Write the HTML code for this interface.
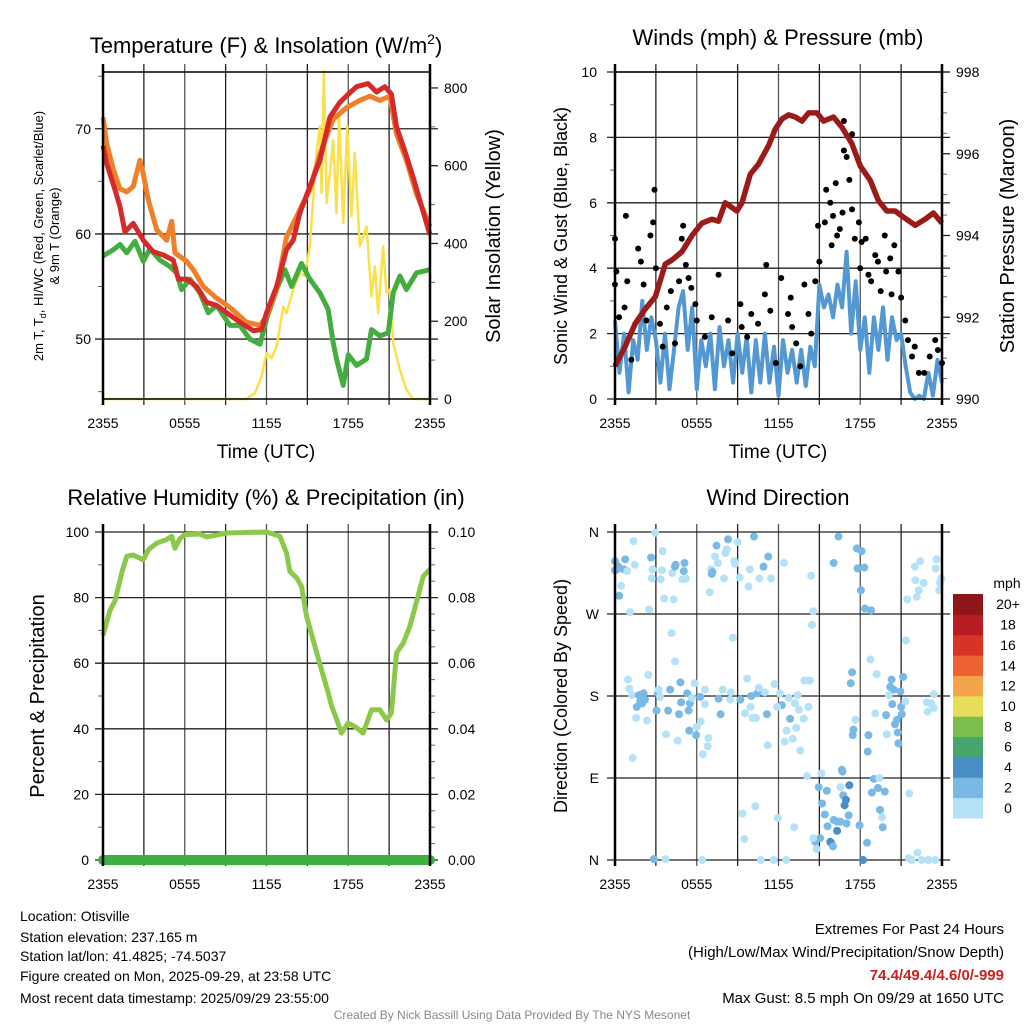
<!DOCTYPE html>
<html><head><meta charset="utf-8"><style>
html,body{margin:0;padding:0;background:#fff;}
svg{display:block;font-family:"Liberation Sans",Arial,sans-serif;}
</style></head><body>
<svg id="fig" width="1024" height="1024" viewBox="0 0 1024 1024" xmlns="http://www.w3.org/2000/svg">
<rect width="1024" height="1024" fill="#fff"/>
<text x="266" y="53" font-size="22" text-anchor="middle">Temperature (F) &amp; Insolation (W/m<tspan font-size="14" dy="-9">2</tspan><tspan dy="9">)</tspan></text>
<text x="778" y="45" font-size="22" text-anchor="middle">Winds (mph) &amp; Pressure (mb)</text>
<text x="266" y="505" font-size="22" text-anchor="middle">Relative Humidity (%) &amp; Precipitation (in)</text>
<text x="778" y="505" font-size="22" text-anchor="middle">Wind Direction</text>

<text transform="translate(43,236) rotate(-90)" font-size="13" text-anchor="middle">2m T, T<tspan font-size="9" dy="3">d</tspan><tspan dy="-3">, HI/WC (Red, Green, Scarlet/Blue)</tspan></text>
<text transform="translate(59,236) rotate(-90)" font-size="13" text-anchor="middle">&amp; 9m T (Orange)</text>
<text transform="translate(500,236) rotate(-90)" font-size="20" text-anchor="middle">Solar Insolation (Yellow)</text>
<text transform="translate(567,236) rotate(-90)" font-size="18" text-anchor="middle">Sonic Wind &amp; Gust (Blue, Black)</text>
<text transform="translate(1014,236) rotate(-90)" font-size="20" text-anchor="middle">Station Pressure (Maroon)</text>
<text transform="translate(44,696) rotate(-90)" font-size="20" text-anchor="middle">Percent &amp; Precipitation</text>
<text transform="translate(567,696) rotate(-90)" font-size="18" text-anchor="middle">Direction (Colored By Speed)</text>
<text x="266" y="458" font-size="19" text-anchor="middle">Time (UTC)</text>
<text x="778" y="458" font-size="19" text-anchor="middle">Time (UTC)</text>

<g font-size="14">
<text x="20" y="921">Location: Otisville</text>
<text x="20" y="942">Station elevation: 237.165 m</text>
<text x="20" y="961">Station lat/lon: 41.4825; -74.5037</text>
<text x="20" y="981">Figure created on Mon, 2025-09-29, at 23:58 UTC</text>
<text x="20" y="1003">Most recent data timestamp: 2025/09/29 23:55:00</text>
</g>
<g font-size="15" text-anchor="end">
<text x="1004" y="934">Extremes For Past 24 Hours</text>
<text x="1004" y="957">(High/Low/Max Wind/Precipitation/Snow Depth)</text>
<text x="1004" y="980" fill="#cc1f1f" font-weight="bold">74.4/49.4/4.6/0/-999</text>
<text x="1004" y="1003">Max Gust: 8.5 mph On 09/29 at 1650 UTC</text>
</g>
<text x="512" y="1019" font-size="12" fill="#888" text-anchor="middle">Created By Nick Bassill Using Data Provided By The NYS Mesonet</text>
<g id="layer"></g>
</svg>
<script>
// ---- Temperature panel data (hours since 2355 UTC) ----
const redHours=[0,0.27,0.88,1.25,1.61,2.22,2.96,3.69,4.43,5.16,5.53,6.14,6.87,7.6,8.34,9.07,10.05,11.03,11.64,12.0,12.74,13.47,13.96,14.45,15.18,15.92,16.65,17.38,18.0,18.61,19.46,20.07,20.68,21.17,21.54,22.15,22.76,23.25,24];
const redTemp=[68.4,66.7,64.2,62.6,60.2,61.0,59.4,58.3,58.0,57.5,55.7,55.7,55.0,53.5,53.2,52.5,51.6,50.8,50.9,52.5,55.0,58.5,59.4,62.0,64.5,67.0,71.1,72.5,73.3,74.0,74.3,73.5,74.0,73.3,70.2,67.9,65.4,63.2,59.9];
const orangeHours=[0,0.27,0.76,1.25,1.74,2.22,2.71,2.96,3.33,3.94,4.67,5.04,5.28,6.14,6.63,7.36,8.34,9.32,10.54,11.52,12.0,12.74,13.47,14.45,15.18,15.92,16.89,17.87,18.85,19.58,20.32,21.05,21.54,22.27,23.01,24];
const orangeTemp=[71.1,68.6,66.1,64.3,64.0,64.5,67.0,65.7,63.2,60.4,59.4,61.2,58.2,57.4,56.6,55.0,53.9,53.0,51.6,51.3,52.2,54.7,59.7,62.3,64.2,67.6,70.9,72.0,72.7,73.1,72.7,73.1,69.5,67.0,63.8,60.7];
const greenHours=[0,0.76,1.25,1.74,2.35,2.96,3.45,4.18,4.91,5.4,5.77,6.38,7.11,7.73,8.34,9.32,10.05,10.78,11.52,12.0,12.74,13.35,13.84,14.57,15.18,15.92,16.53,16.89,17.14,17.63,18.0,18.61,19.34,19.71,20.32,20.93,21.3,21.79,22.27,23.01,24];
const greenDew=[57.9,58.5,59.0,58.2,59.3,57.4,58.6,57.5,56.9,56.3,54.7,55.7,54.4,52.5,53.2,51.3,51.3,50.0,49.5,51.9,54.7,56.6,55.0,57.2,55.7,54.4,52.8,49.7,48.1,45.6,48.5,47.5,48.1,50.9,50.3,50.6,54.4,56.0,54.7,56.3,56.6];
const solarHours=[0,10.54,11.15,11.64,12.0,12.37,12.74,13.23,13.47,13.96,14.45,14.82,15.18,15.43,15.67,15.92,16.04,16.21,16.41,16.65,16.89,17.14,17.33,17.63,17.92,18.24,18.48,18.85,19.34,19.71,19.95,20.2,20.56,20.81,21.05,21.3,21.79,22.27,22.76,24];
const solarVals=[0,0,15,58,118,105,135,238,221,281,324,316,393,513,633,702,530,843,504,581,667,478,727,453,702,470,633,393,444,264,341,221,393,273,281,144,75,24,0,0];
const tempTicks=[50,60,70];
const solarTicks=[0,200,400,600,800];
// ---- Wind panel data ----
const pressHours=[0,0.76,1.49,2.22,2.96,3.69,4.18,4.91,5.65,6.38,7.11,7.6,8.09,8.95,9.32,9.93,10.54,11.27,11.76,12.25,12.74,13.23,13.72,14.21,14.82,15.31,16.04,16.65,17.38,18.0,18.73,19.34,19.95,20.56,21.17,22.03,22.76,23.37,24];
const pressVals=[990.8,991.3,991.85,992.2,992.5,993.3,993.4,993.6,994.0,994.3,994.4,994.35,994.8,994.6,994.8,995.5,995.75,996.2,996.6,996.85,996.95,996.9,996.8,997.0,997.0,996.8,996.9,996.65,996.25,995.7,995.35,994.85,994.6,994.6,994.45,994.25,994.4,994.55,994.3];
const sonicWind=[2.4,0.8,2.0, 0.2,1.8,1.2, 3.0,1.5,2.5, 1.8,0.5,2.0, 0.3,1.5,2.8, 3.3,1.5,2.8, 0.3,1.8,1.0, 2.0,0.3,2.2, 1.0,1.8,0.5, 2.0,0.8,1.9, 0.2,1.8,0.5, 2.0,0.5,1.6, 0.1,1.8,0.8, 1.5,0.5,1.5, 0.4,1.6,1.0, 3.5,2.8,3.2, 2.5,3.5,2.8, 4.5,2.0,3.6, 1.5,2.5,0.8, 2.5,1.5,2.8, 1.2,2.5,1.8, 2.0,1.0,0.2, 0.0,0.1,0.0, 0.8,0.1,1.2, 0.5];
const gustHours=[0,0,0.1,0.3,0.7,0.8,0.9,1.2,1.7,1.9,2.1,2.3,2.6,2.8,2.9,3.0,3.3,3.5,3.8,4.1,4.4,4.7,4.9,5.0,5.2,5.4,5.6,5.9,6.0,6.6,7.1,7.6,8.3,8.6,9.2,9.3,9.7,10.0,10.5,11.0,11.1,11.4,11.8,12.2,12.7,12.9,13.0,13.3,13.6,13.9,14.2,14.4,14.7,14.9,15.0,15.4,15.5,15.8,15.9,16.0,16.2,16.3,16.5,16.7,16.8,16.8,17.0,17.2,17.4,17.4,17.6,17.9,18.0,18.1,18.4,18.6,18.8,19.1,19.3,19.5,19.8,19.9,20.2,20.3,20.5,20.8,21.0,21.3,21.5,21.8,22.0,22.3,22.7,23.1,23.5,23.7,24.0];
const gustVals=[4.9,3.5,3.9,2.5,2.8,5.6,3.6,1.2,4.6,4.2,3.5,2.4,5.0,5.4,6.4,4.0,2.3,1.6,2.8,3.3,1.7,3.6,4.9,5.3,4.1,3.7,3.4,2.9,2.4,1.9,2.5,3.8,2.4,1.4,2.9,2.2,1.9,2.6,2.3,3.2,4.1,2.7,1.1,3.7,2.6,3.1,2.2,1.7,1.0,3.5,2.6,2.0,3.6,5.3,4.2,5.4,6.4,6.0,4.7,5.6,6.6,5.0,5.2,5.7,7.6,8.5,7.4,6.7,8.1,5.8,4.9,5.4,4.0,4.8,4.9,3.8,3.6,4.4,4.2,3.3,5.0,3.9,4.3,3.2,4.7,3.9,3.1,2.4,1.8,1.3,1.6,0.8,0.8,1.3,1.8,1.5,1.1];
const windTicks=[0,2,4,6,8,10];
const pressTicks=[990,992,994,996,998];
// ---- Humidity panel data ----
const rhHours=[0,0.51,0.88,1.37,1.74,2.22,2.96,3.33,3.94,4.67,5.04,5.28,5.65,6.01,7.11,7.6,9.07,12.0,12.98,13.47,13.72,14.21,14.57,14.94,15.43,16.04,16.53,16.77,17.14,17.5,17.99,18.48,19.09,19.71,20.32,20.81,21.17,21.54,22.03,22.52,23.13,23.5,24];
const rhVals=[68.5,76,79,87.5,92.6,93,91.5,94.6,96.6,97.7,98.7,95,98,99.2,99.4,98.5,99.7,100,98.7,93.6,88,86,83.4,74.3,67,58,51,47,43,38.7,41.7,40.7,38.7,45.8,45.8,42.7,44.8,63.1,66.1,71.2,80.4,86.5,88.7];
const precipHours=[0,3,6,9,12,15,18,21,24];
const precipVals=[0,0,0,0,0,0,0,0,0];
const rhTicks=[0,20,40,60,80,100];
const precipTicks=["0.00","0.02","0.04","0.06","0.08","0.10"];
// ---- Wind direction data ----
const dirHours=[0,0.15,0,0.25,0.75,0.65,0.9,0.3,0.45,1.35,1.45,1.1,2.65,2.75,2.7,2.5,2.95,3.5,3.45,3.35,3.6,4.3,4.2,4.45,4.4,5.1,5.05,4.95,5.2,7.45,8.3,9.0,8.1,8.2,7.35,7.55,7.05,7.15,7.1,8.75,8.8,8.0,6.95,9.15,9.9,9.8,10.2,10.9,11.25,10.6,11.45,12.4,14.4,14.55,14.45,16.05,16.4,17.75,18.1,17.8,18.3,18.05,18.35,18.8,21.45,22.0,22.4,22.05,22.3,22.15,22.65,23.6,23.55,23.95,23.85,23.8,
0.95,1.05,1.25,2.45,1.75,2.1,1.85,1.6,2.0,2.2,1.55,2.35,1.3,3.05,3.15,3.3,3.2,4.05,3.9,3.75,4.15,4.4,4.6,4.8,4.85,4.7,5.3,5.4,5.5,5.65,5.85,5.45,5.95,6.25,6.6,6.6,6.3,6.0,6.85,6.8,6.45,7.6,7.75,7.9,8.5,8.45,8.65,9.2,9.55,9.7,9.95,10.1,10.35,10.0,10.45,10.55,11.15,11.2,11.0,11.7,12.1,12.25,11.9,12.75,12.85,13.2,13.5,13.4,12.6,12.45,13.05,13.3,13.6,13.9,14.3,14.2,13.85,17.4,17.3,17.65,17.5,17.45,18.75,19.2,19.1,18.6,18.55,20.3,20.2,20.45,20.95,20.35,21.15,21.0,21.05,21.35,21.3,19.9,20.7,20.55,20.75,20.8,19.95,22.9,23.2,23.4,22.95,23.4,20.1,
14.1,15.15,14.95,15.55,15.2,15.4,16.65,16.7,16.55,17.2,16.75,16.95,16.85,17.15,17.0,16.05,16.3,16.55,15.6,16.3,15.9,15.8,16.0,14.7,15.05,14.55,14.8,17.95,18.5,18.2,19.0,19.4,19.3,19.8,18.85,19.45,19.6,19.65,21.6,22.2,21.55,21.8,22.5,23.0,23.5,9.35,10.3,9.5,11.95,13.15,2.85,3.7,6.4,10.7,11.65,12.55];
const dirDeg=[328,319,318,322,330,319,317,290,301,350,324,272,332,319,309,275,359,339,318,308,287,286,315,324,322,326,317,308,309,345,352,349,337,341,333,326,319,316,314,328,325,309,294,310,319,300,355,322,333,309,309,326,312,273,258,326,355,342,339,320,321,296,276,274,286,322,328,307,296,289,304,330,320,309,304,296,
198,188,181,203,181,183,174,168,172,176,156,153,112,164,183,179,187,187,164,138,249,218,131,195,173,160,183,164,172,178,194,142,137,179,187,171,152,146,134,125,116,177,160,187,184,176,244,176,161,199,168,156,156,180,183,189,160,126,184,193,183,170,168,178,155,172,165,181,142,130,133,145,120,197,197,168,155,206,194,154,143,137,220,204,161,137,119,198,190,187,185,171,201,168,160,241,174,159,154,149,140,128,138,173,172,167,163,182,181,
92,95,80,76,62,50,99,97,80,82,71,66,60,49,40,44,42,42,37,32,18,20,15,20,24,24,12,38,19,0,89,90,79,75,74,55,47,36,73,8,2,0,0,0,0,51,59,23,46,36,1,1,0,0,0,0];
const dirSpeed=[3,3,3,3,3,3,1,3,1,1,1,1,3,1,1,1,1,1,1,1,1,1,1,3,3,3,3,1,1,3,3,1,1,1,1,1,1,3,3,1,1,1,1,1,1,1,3,3,3,1,1,1,1,1,1,3,3,3,3,3,3,3,3,3,1,1,1,1,1,1,1,1,1,1,1,1,
1,1,1,1,3,3,3,3,3,3,1,1,1,3,3,1,1,3,3,1,1,1,1,3,3,3,3,3,3,1,1,3,3,3,1,1,1,1,1,1,1,3,3,1,1,1,1,3,1,1,1,1,1,3,3,1,3,1,1,1,1,3,1,1,3,1,1,1,1,1,1,1,1,1,1,1,1,3,3,1,3,3,1,1,1,3,3,3,3,3,3,3,3,3,3,1,1,3,3,3,3,3,1,1,1,1,1,1,1,
1,1,3,3,3,3,3,3,1,5,3,5,5,3,3,3,3,3,3,5,3,5,3,3,3,1,1,3,3,5,3,1,3,3,3,3,1,3,1,1,1,1,1,1,1,1,1,1,1,1,3,1,1,1,1,1];
const dirLabels=["N","E","S","W","N"];
const dirTickDeg=[0,90,180,270,360];
const timeLabels=["2355","0555","1155","1755","2355"];
const timeLabelHours=[0,6,12,18,24];
const legendLabels=["0","2","4","6","8","10","12","14","16","18","20+"];
const legendColors=["#b5e2f7","#7ab9e4","#4a8ec8","#49a56e","#7cbe4b","#e6de5a","#f5a34a","#ee6130","#d93328","#b81c22","#8e1518"];

const NS="http://www.w3.org/2000/svg";
const layer=document.getElementById('layer');
function mk(tag,attrs,parent){const e=document.createElementNS(NS,tag);for(const k in attrs)e.setAttribute(k,attrs[k]);(parent||layer).appendChild(e);return e;}
function lin(d0,d1,r0,r1){return v=>r0+(v-d0)/(d1-d0)*(r1-r0);}
function pathFrom(xs,ys,sx,sy){return xs.map((h,i)=>(i?'L':'M')+sx(h).toFixed(1)+','+sy(ys[i]).toFixed(1)).join('');}

function frame(p,name){
  const g=mk('g',{});
  
  
  for(let i=0;i<=8;i++){const x=p.x0+i*(p.x1-p.x0)/8;mk('line',{x1:x,x2:x,y1:p.y0-8,y2:p.y1+6,stroke:i%2?'#222':'#555','stroke-width':1.3},g);}
  return g;
}
function hline(g,y,x0,x1){mk('line',{x1:x0-8,x2:x1+8,y1:y,y2:y,stroke:'#222','stroke-width':1.3},g);}
function tlabels(p,y){
  const g=mk('g',{'font-size':14,'text-anchor':'middle'});
  
  
  timeLabelHours.forEach((h,i)=>{const t=mk('text',{x:p.sx(h),y:y},g);t.textContent=timeLabels[i];});
}
function minor(g,x,y,dir){mk('line',{x1:x,x2:x+dir*5,y1:y,y2:y,stroke:'#666','stroke-width':1},g);}
function axesBorder(p,top){
  mk('line',{x1:p.x0,x2:p.x0,y1:p.y0-8,y2:p.y1+6,stroke:'#000','stroke-width':2.5});
  mk('line',{x1:p.x1,x2:p.x1,y1:p.y0-8,y2:p.y1+6,stroke:'#000','stroke-width':2.5});
  mk('line',{x1:p.x0,x2:p.x1,y1:p.y1,y2:p.y1,stroke:'#000','stroke-width':1.5});
  if(top)mk('line',{x1:p.x0,x2:p.x1,y1:p.y0,y2:p.y0,stroke:'#000','stroke-width':1.5});
}

// ===== Panel 1 =====
(function(){
  const p={x0:103,x1:430,y0:72,y1:399};p.sx=lin(0,24,p.x0,p.x1);
  const sy=lin(44.3,75.4,p.y1,p.y0), sS=lin(0,841,p.y1,p.y0);
  const g=frame(p,'temperature');
  tempTicks.forEach(v=>hline(g,sy(v),p.x0,p.x1));
  [45,55,65,75].forEach(v=>minor(g,p.x0,sy(v),-1));
  [100,300,500,700].forEach(v=>minor(g,p.x1,sS(v),1));
  const tl=mk('g',{'font-size':14,'text-anchor':'end'});
  
  
  tempTicks.forEach(v=>{const t=mk('text',{x:91,y:sy(v)+5},tl);t.textContent=v;});
  const sl=mk('g',{'font-size':14});
  
  
  solarTicks.forEach(v=>{mk('line',{x1:p.x1,x2:p.x1+8,y1:sS(v),y2:sS(v),stroke:'#222','stroke-width':1.3},sl);const t=mk('text',{x:444,y:sS(v)+5},sl);t.textContent=v;});
  const s=mk('path',{d:pathFrom(solarHours,solarVals,p.sx,sS),fill:'none',stroke:'#fbe04c','stroke-width':2.5,'stroke-linejoin':'round'});
  
  
  const gr=mk('path',{d:pathFrom(greenHours,greenDew,p.sx,sy),fill:'none',stroke:'#43ad3f','stroke-width':5,'stroke-linejoin':'round'});
  
  
  const o=mk('path',{d:pathFrom(orangeHours,orangeTemp,p.sx,sy),fill:'none',stroke:'#f07f2a','stroke-width':5,'stroke-linejoin':'round'});
  
  
  const r=mk('path',{d:pathFrom(redHours,redTemp,p.sx,sy),fill:'none',stroke:'#d42a2a','stroke-width':5,'stroke-linejoin':'round'});
  
  
  axesBorder(p,true);
  tlabels(p,428);
})();

// ===== Panel 2 =====
(function(){
  const p={x0:615,x1:942,y0:72,y1:399};p.sx=lin(0,24,p.x0,p.x1);
  const sy=lin(0,10,p.y1,p.y0), sP=lin(990,998,p.y1,p.y0);
  const g=frame(p,'wind');
  windTicks.forEach(v=>hline(g,sy(v),p.x0,p.x1));
  [1,3,5,7,9].forEach(v=>minor(g,p.x0,sy(v),-1));
  for(let v=990.5;v<998;v+=0.5){if(v%2)minor(g,p.x1,sP(v),1);}
  const tl=mk('g',{'font-size':14,'text-anchor':'end'});
  
  
  windTicks.forEach(v=>{const t=mk('text',{x:597,y:sy(v)+5},tl);t.textContent=v;});
  const pl=mk('g',{'font-size':14});
  
  
  pressTicks.forEach(v=>{mk('line',{x1:p.x1,x2:p.x1+8,y1:sP(v),y2:sP(v),stroke:'#222','stroke-width':1.3},pl);const t=mk('text',{x:956,y:sP(v)+5},pl);t.textContent=v;});
  const sh=sonicWind.map((v,i)=>i/3);
  const w=mk('path',{d:pathFrom(sh,sonicWind,p.sx,sy),fill:'none',stroke:'#5398d2','stroke-width':4,'stroke-linejoin':'round'});
  
  
  const gg=mk('g',{fill:'#000'});
  
  
  gustHours.forEach((h,i)=>mk('circle',{cx:p.sx(h),cy:sy(gustVals[i]),r:3},gg));
  const pr=mk('path',{d:pathFrom(pressHours,pressVals,p.sx,sP),fill:'none',stroke:'#9b1b1b','stroke-width':5.5,'stroke-linejoin':'round'});
  
  
  axesBorder(p,true);
  tlabels(p,428);
})();

// ===== Panel 3 =====
(function(){
  const p={x0:103,x1:430,y0:532,y1:860};p.sx=lin(0,24,p.x0,p.x1);
  const sy=lin(0,100,p.y1,p.y0), sPr=lin(0,0.1,p.y1,p.y0);
  const g=frame(p,'humidity');
  rhTicks.forEach(v=>hline(g,sy(v),p.x0,p.x1));
  [10,30,50,70,90].forEach(v=>minor(g,p.x0,sy(v),-1));
  for(let v=5;v<100;v+=5){if(v%20)minor(g,p.x1,sy(v),1);}
  const tl=mk('g',{'font-size':14,'text-anchor':'end'});
  
  
  rhTicks.forEach(v=>{const t=mk('text',{x:89,y:sy(v)+5},tl);t.textContent=v;});
  const pl=mk('g',{'font-size':14});
  
  
  precipTicks.forEach(v=>{const t=mk('text',{x:448,y:sPr(+v)+5},pl);t.textContent=v;});
  const pc=mk('path',{d:pathFrom(precipHours,precipVals,p.sx,sPr),fill:'none',stroke:'#3cb043','stroke-width':10,'stroke-linecap':'round'});
  
  
  const rh=mk('path',{d:pathFrom(rhHours,rhVals,p.sx,sy),fill:'none',stroke:'#8cc84b','stroke-width':5,'stroke-linejoin':'round'});
  
  
  mk('line',{x1:p.x0,x2:p.x0,y1:p.y0-8,y2:p.y1+6,stroke:'#000','stroke-width':2.5});
  mk('line',{x1:p.x1,x2:p.x1,y1:p.y0-8,y2:p.y1+6,stroke:'#000','stroke-width':2.5});
  tlabels(p,889);
})();

// ===== Panel 4 =====
(function(){
  const p={x0:615,x1:942,y0:532,y1:860};p.sx=lin(0,24,p.x0,p.x1);
  const sy=lin(0,360,p.y1,p.y0);
  const g=frame(p,'direction');
  dirTickDeg.forEach(v=>hline(g,sy(v),p.x0,p.x1));
  const tl=mk('g',{'font-size':14,'text-anchor':'end'});
  
  
  dirTickDeg.forEach((v,i)=>{const t=mk('text',{x:599,y:sy(v)+5},tl);t.textContent=dirLabels[i];});
  const dg=mk('g',{});
  
  
  dirHours.forEach((h,i)=>{const bin=Math.min(10,Math.floor(dirSpeed[i]/2));mk('circle',{cx:p.sx(h),cy:sy(dirDeg[i]),r:4,fill:legendColors[bin]},dg);});
  mk('line',{x1:p.x0,x2:p.x0,y1:p.y0-8,y2:p.y1+6,stroke:'#000','stroke-width':2.5});
  mk('line',{x1:p.x1,x2:p.x1,y1:p.y0-8,y2:p.y1+6,stroke:'#000','stroke-width':2.5});
  tlabels(p,889);
  // legend
  const lg=mk('g',{'font-size':14,'text-anchor':'middle'});
  
  
  const t0=mk('text',{x:1007,y:588},lg);t0.textContent='mph';
  const top=594,bot=818,n=legendColors.length,bh=(bot-top)/n;
  legendColors.forEach((c,i)=>{
    const y=bot-(i+1)*bh;
    mk('rect',{x:953,y:y,width:30,height:bh+0.5,fill:c},lg);
    const t=mk('text',{x:1008,y:y+bh/2+5},lg);t.textContent=legendLabels[i];
  });
})();
</script>
</body></html>
